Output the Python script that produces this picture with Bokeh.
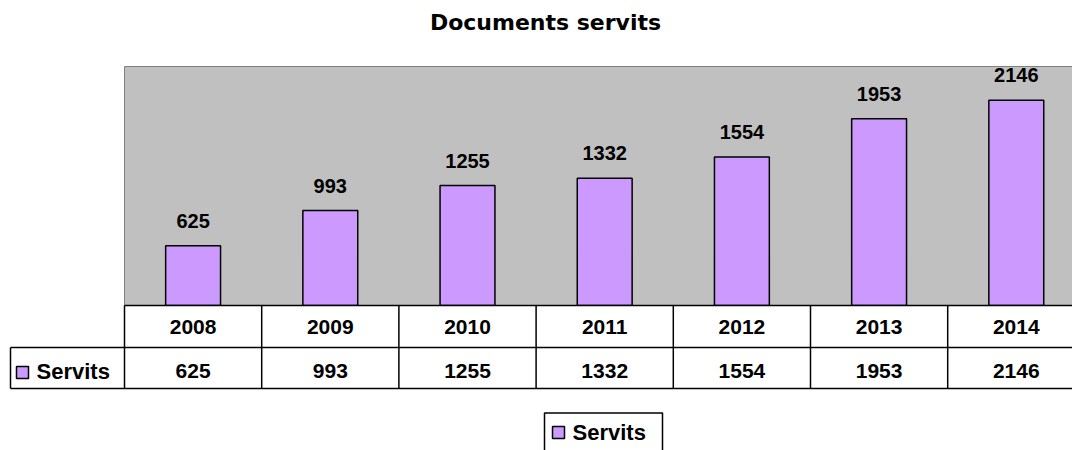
from bokeh.plotting import figure
from bokeh.models import Range1d
from bokeh.core.properties import value
from bokeh.embed import file_html
from bokeh.resources import INLINE

# ---- data ----
title_text = "Documents servits"
years = ["2008", "2009", "2010", "2011", "2012", "2013", "2014"]
servits = [625, 993, 1255, 1332, 1554, 1953, 2146]
series_name = "Servits"
y_max = 2500

# ---- layout constants (screen pixels in the picture) ----
W, H = 1072, 450
PX0, PY0 = 0, 0
FRAME_L, FRAME_T, FRAME_B = 124, 66, 305
COL_W = 137.2
ROW1_B, ROW2_B = 347, 388
TABLE_L = 10

k = (FRAME_B - FRAME_T) / y_max  # px per value unit
x_range = Range1d((PX0 - FRAME_L) / COL_W, (PX0 + W - FRAME_L) / COL_W)
y_range = Range1d(-(PY0 + H - FRAME_B) / k, y_max + (FRAME_T - PY0) / k)

p = figure(width=W, height=H, x_range=x_range, y_range=y_range,
           x_axis_type=None, y_axis_type=None, min_border=0,
           toolbar_location=None, output_backend="svg",
           outline_line_color=None, background_fill_color="white",
           border_fill_color="white")
p.extra_x_ranges = {"scr": Range1d(PX0, PX0 + W)}
p.extra_y_ranges = {"scr": Range1d(PY0 + H, PY0)}

n = len(years)
xc = [i + 0.5 for i in range(n)]

# plot area
p.quad(left=[0], right=[n], bottom=[0], top=[y_max],
       fill_color="#c0c0c0", line_color="#808080", line_width=1)

# bars
p.vbar(x=xc, width=0.4, bottom=0, top=servits,
       fill_color="#cc99ff", line_color="black", line_width=1.5)

FONT = value("Liberation Sans")

# bar labels
p.text(x=xc, y=servits, text=[str(v) for v in servits], y_offset=-25,
       text_align="center", text_baseline="middle",
       text_font=FONT, text_font_style="bold", text_font_size="20px",
       text_color="black")

# title
p.text(x=[545], y=[22], text=[title_text], x_range_name="scr", y_range_name="scr",
       text_align="center", text_baseline="middle",
       text_font=value("DejaVu Sans"), text_font_style="bold",
       text_font_size="22px", text_color="black")

# table background (white) and lines
p.quad(left=[0], right=[n + 1], top=[FRAME_B], bottom=[ROW1_B],
       y_range_name="scr", fill_color="white", line_color=None)
# horizontal lines
p.segment(x0=[0], x1=[n + 1], y0=[FRAME_B], y1=[FRAME_B], y_range_name="scr",
          line_color="black", line_width=1.5)
p.segment(x0=[TABLE_L, TABLE_L], x1=[1200, 1200], y0=[ROW1_B, ROW2_B], y1=[ROW1_B, ROW2_B],
          x_range_name="scr", y_range_name="scr", line_color="black", line_width=1.5)
# vertical lines
p.segment(x0=list(range(n + 1)), x1=list(range(n + 1)),
          y0=[FRAME_B] * (n + 1), y1=[ROW2_B] * (n + 1),
          y_range_name="scr", line_color="black", line_width=1.5)
p.segment(x0=[TABLE_L], x1=[TABLE_L], y0=[ROW1_B], y1=[ROW2_B],
          x_range_name="scr", y_range_name="scr", line_color="black", line_width=1.5)

# table text
p.text(x=xc, y=[326.5] * n, text=years, y_range_name="scr",
       text_align="center", text_baseline="middle",
       text_font=FONT, text_font_style="bold", text_font_size="21px", text_color="black")
p.text(x=xc, y=[370] * n, text=[str(v) for v in servits], y_range_name="scr",
       text_align="center", text_baseline="middle",
       text_font=FONT, text_font_style="bold", text_font_size="21px", text_color="black")

# legend key in table
p.quad(left=[16], right=[28], top=[366], bottom=[378], x_range_name="scr", y_range_name="scr",
       fill_color="#cc99ff", line_color="black", line_width=1.5)
p.text(x=[36], y=[371], text=[series_name], x_range_name="scr", y_range_name="scr",
       text_align="left", text_baseline="middle",
       text_font=FONT, text_font_style="bold", text_font_size="22px", text_color="black")

# bottom legend
p.quad(left=[544], right=[662], top=[412.5], bottom=[470], x_range_name="scr", y_range_name="scr",
       fill_color="white", line_color="black", line_width=1.5)
p.quad(left=[552], right=[564], top=[426], bottom=[438], x_range_name="scr", y_range_name="scr",
       fill_color="#cc99ff", line_color="black", line_width=1.5)
p.text(x=[572], y=[432], text=[series_name], x_range_name="scr", y_range_name="scr",
       text_align="left", text_baseline="middle",
       text_font=FONT, text_font_style="bold", text_font_size="22px", text_color="black")

open("out.html", "w").write(file_html(p, INLINE))
